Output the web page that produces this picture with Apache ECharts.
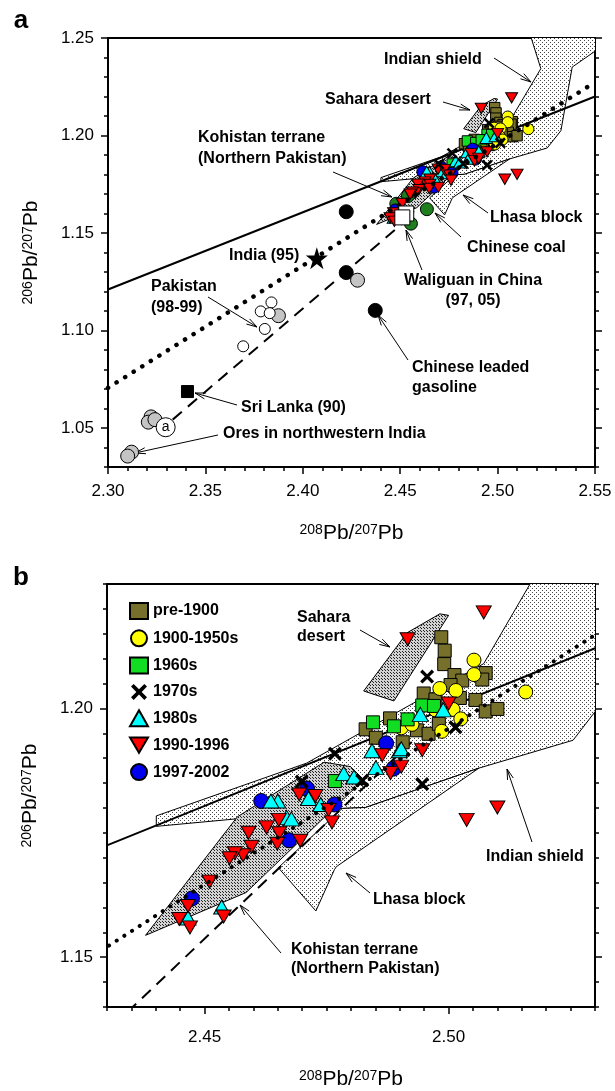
<!DOCTYPE html>
<html>
<head>
<meta charset="utf-8">
<script src="https://cdn.jsdelivr.net/npm/echarts@6/dist/echarts.min.js"></script>
<style>
  html, body { margin: 0; padding: 0; background: #fff; }
  #chart { width: 615px; height: 1091px; }
</style>
</head>
<body>
<div id="chart"></div>
<script>
// aerosol samples, [208Pb/207Pb, 206Pb/207Pb]
const pre1900 = [[2.4985, 1.2143], [2.4992, 1.2116], [2.4991, 1.2089], [2.5012, 1.2067], [2.5028, 1.2056], [2.5076, 1.2071], [2.5069, 1.2058], [2.5055, 1.2017], [2.5076, 1.1994], [2.5100, 1.1999], [2.4949, 1.2030], [2.5004, 1.2047], [2.5023, 1.2021], [2.4830, 1.1958], [2.4851, 1.1941], [2.4880, 1.1980], [2.4935, 1.1956], [2.4959, 1.1949], [2.4973, 1.2018], [2.4906, 1.1932], [2.4980, 1.1969]]
const y1900s = [[2.5052, 1.2097], [2.5052, 1.2068], [2.5158, 1.2033], [2.4982, 1.2040], [2.5015, 1.2036], [2.5009, 1.1998], [2.5025, 1.1979], [2.4973, 1.1997], [2.4903, 1.1961], [2.4925, 1.1968], [2.4986, 1.1954]]
const y1960s = [[2.4845, 1.1972], [2.4946, 1.2006], [2.4888, 1.1964], [2.4916, 1.1978], [2.4767, 1.1854], [2.4970, 1.2005]]
const y1970s = [[2.4956, 1.2064], [2.5014, 1.1962], [2.4946, 1.1848], [2.4767, 1.1909], [2.4699, 1.1853], [2.4823, 1.1855]]
const y1980s = [[2.4942, 1.1988], [2.4989, 1.1997], [2.4843, 1.1915], [2.4899, 1.1915], [2.4903, 1.1919], [2.4851, 1.1881], [2.4785, 1.1869], [2.4806, 1.1862], [2.4713, 1.1819], [2.4738, 1.1807], [2.4650, 1.1814], [2.4636, 1.1814], [2.4668, 1.1781], [2.4678, 1.1778], [2.4535, 1.1601], [2.4466, 1.1579]]
const y1990s = [[2.5072, 1.2193], [2.4916, 1.2139], [2.5000, 1.2010], [2.4946, 1.1916], [2.4864, 1.1906], [2.4881, 1.1870], [2.4903, 1.1883], [2.5100, 1.1801], [2.5037, 1.1776], [2.4694, 1.1827], [2.4727, 1.1824], [2.4754, 1.1796], [2.4761, 1.1771], [2.4652, 1.1776], [2.4627, 1.1761], [2.4653, 1.1749], [2.4590, 1.1750], [2.4649, 1.1728], [2.4696, 1.1734], [2.4596, 1.1722], [2.4579, 1.1705], [2.4562, 1.1709], [2.4551, 1.1699], [2.4510, 1.1652], [2.4466, 1.1603], [2.4448, 1.1577], [2.4470, 1.1560], [2.4539, 1.1582]]
const y1997 = [[2.4872, 1.1930], [2.4710, 1.1839], [2.4766, 1.1807], [2.4616, 1.1814], [2.4673, 1.1735], [2.4474, 1.1618], [2.4887, 1.1879]]

// other sources, panel a only
const leadedGasoline = [[2.4223, 1.1609], [2.4223, 1.1297], [2.4372, 1.1103]]
const grayCircles = [[2.3221, 1.0557], [2.3207, 1.0530], [2.3241, 1.0543], [2.3121, 1.0376], [2.3101, 1.0356], [2.3875, 1.1076], [2.4281, 1.1258]]
const pakistan = [[2.3839, 1.1144], [2.3784, 1.1098], [2.3830, 1.1089], [2.3805, 1.1008], [2.3694, 1.0919]]
const india95 = [[2.4072, 1.1371]]
const sriLanka = [[2.3408, 1.0687]]
const pointA = [[2.3296, 1.0504]]
const chineseCoal = [[2.4637, 1.1622], [2.4540, 1.1690], [2.4555, 1.1548], [2.4480, 1.1650]]
const waliguan = [[2.4531, 1.1600], [2.4511, 1.1580]]

// reference lines
const solidLine = [[2.30, 1.121], [2.55, 1.220]]
const dottedLine = [[2.30, 1.0706], [2.55, 1.2273]]
const dashedA = [[2.3332, 1.0543], [2.456, 1.159]]
const dashedB = [[2.4342, 1.139], [2.497, 1.1975]]

// source fields
const indianShield = [[2.5157, 1.255], [2.5222, 1.2343], [2.5072, 1.209], [2.4709, 1.1890], [2.4401, 1.1784], [2.4401, 1.1763], [2.4565, 1.1778], [2.4782, 1.1799], [2.4830, 1.1801], [2.5062, 1.1880], [2.5255, 1.1936], [2.5325, 1.2025], [2.5383, 1.2351], [2.5494, 1.2428], [2.56, 1.2501], [2.56, 1.255]]
const lhasaBlock = [[2.5062, 1.1880], [2.4770, 1.1682], [2.4766, 1.1676], [2.4728, 1.1593], [2.4651, 1.1680], [2.4782, 1.1799], [2.4830, 1.1801]]
const kohistan = [[2.4379, 1.1544], [2.4567, 1.1782], [2.4745, 1.1892], [2.4799, 1.1883], [2.4826, 1.1857], [2.4585, 1.1630]]
const sahara = [[2.4826, 1.2035], [2.4915, 1.2152], [2.4982, 1.2190], [2.5000, 1.2187], [2.4888, 1.2015]]

// axis ticks
const aXLabels = [2.30, 2.35, 2.40, 2.45, 2.50, 2.55]
const aYLabels = [1.05, 1.10, 1.15, 1.20, 1.25]
const bXLabels = [2.45, 2.50]
const bYLabels = [1.15, 1.20]

const FONT = '"Liberation Sans", Arial, sans-serif'
const chart = echarts.init(document.getElementById('chart'))

function steps (a, b, s) {
  const out = []
  for (let v = a; v <= b + s / 2; v += s) out.push(Math.round(v * 1e4) / 1e4)
  return out
}

function stipple (bg, dot, step) {
  const c = document.createElement('canvas')
  c.width = c.height = step
  const g = c.getContext('2d')
  g.fillStyle = bg
  g.fillRect(0, 0, step, step)
  g.fillStyle = dot
  g.fillRect(0, 0, 1, 1)
  g.fillRect(Math.floor(step / 2), Math.floor(step / 2), 1, 1)
  return { image: c, repeat: 'repeat' }
}
const lightFill = stipple('#ffffff', '#444', 4)
const darkFill = stipple('#d2d2d2', '#222', 3)

function axis (grid, pos, min, max, ticks, len, opts) {
  return Object.assign({
    type: 'value', gridIndex: grid, position: pos, min: min, max: max,
    axisLine: { show: true, onZero: false, lineStyle: { color: '#000', width: 2 } },
    axisTick: { show: true, customValues: ticks, length: len, lineStyle: { color: '#000', width: 1.5 } },
    axisLabel: { show: false },
    splitLine: { show: false }
  }, opts)
}
function labels (vals, margin) {
  return { show: true, customValues: vals, formatter: v => v.toFixed(2), color: '#000', fontSize: 17, fontFamily: FONT, margin: margin }
}
const titleRich = {
  m: { fontSize: 21, fontFamily: FONT, color: '#000', verticalAlign: 'bottom' },
  s: { fontSize: 14, fontFamily: FONT, color: '#000', verticalAlign: 'top' }
}
const titleText = '{s|208}{m|Pb/}{s|207}{m|Pb}'
const yTitleText = '{s|206}{m|Pb/}{s|207}{m|Pb}'
const noLine = { axisLine: { show: false } }

const xAxis = [
  axis(0, 'bottom', 2.30, 2.55, aXLabels, 7, { axisLabel: labels(aXLabels, 16), name: titleText, nameLocation: 'middle', nameGap: 56, nameTextStyle: { rich: titleRich } }),
  axis(0, 'bottom', 2.30, 2.55, steps(2.30, 2.55, 0.01), 4, noLine),
  axis(1, 'bottom', 2.43, 2.53, bXLabels, 7, { axisLabel: labels(bXLabels, 22), name: titleText, nameLocation: 'middle', nameGap: 62, nameTextStyle: { rich: titleRich } }),
  axis(1, 'bottom', 2.43, 2.53, steps(2.43, 2.53, 0.005), 4, noLine)
]
const yAxis = [
  axis(0, 'left', 1.03, 1.25, aYLabels, 7, { axisLabel: labels(aYLabels, 14), name: yTitleText, nameLocation: 'middle', nameGap: 66, nameRotate: 90, nameTextStyle: { rich: titleRich } }),
  axis(0, 'left', 1.03, 1.25, steps(1.03, 1.25, 0.01), 4, noLine),
  axis(0, 'right', 1.03, 1.25, aYLabels, 7, {}),
  axis(0, 'right', 1.03, 1.25, steps(1.03, 1.25, 0.01), 4, noLine),
  axis(1, 'left', 1.14, 1.225, bYLabels, 7, { axisLabel: labels(bYLabels, 14), name: yTitleText, nameLocation: 'middle', nameGap: 66, nameRotate: 90, nameTextStyle: { rich: titleRich } }),
  axis(1, 'left', 1.14, 1.225, steps(1.14, 1.225, 0.005), 4, noLine),
  axis(1, 'right', 1.14, 1.225, bYLabels, 7, {}),
  axis(1, 'right', 1.14, 1.225, steps(1.14, 1.225, 0.005), 4, noLine)
]

function polygon (name, verts, fill, xi, yi) {
  return {
    type: 'custom', name: name, xAxisIndex: xi, yAxisIndex: yi, clip: true, silent: true, z: 1,
    data: verts,
    renderItem (params, api) {
      if (params.dataIndex !== 0) return null
      return {
        type: 'polygon',
        shape: { points: verts.map(p => api.coord(p)) },
        style: { fill: fill, stroke: '#000', lineWidth: 1 }
      }
    }
  }
}
function line (data, xi, yi, style, z) {
  return {
    type: 'line', data: data, xAxisIndex: xi, yAxisIndex: yi, showSymbol: false, silent: true, z: z,
    lineStyle: Object.assign({ color: '#000' }, style)
  }
}
function scatter (name, data, xi, yi, symbol, size, color, z, extra) {
  return Object.assign({
    type: 'scatter', name: name, data: data, xAxisIndex: xi, yAxisIndex: yi, symbol: symbol, symbolSize: size, z: z || 3, silent: true,
    itemStyle: { color: color, borderColor: '#000', borderWidth: 1, opacity: 1 }
  }, extra)
}
const solidBlack = { itemStyle: { color: '#000', borderWidth: 0, opacity: 1 } }

const DOWN = 'path://M0,0L20,0L10,17Z'
const CROSS = 'path://M0,2L2,0L6,4L10,0L12,2L8,6L12,10L10,12L6,8L2,12L0,10L4,6Z'
const STAR = 'path://M50,0L61,35L98,35L68,57L79,91L50,70L21,91L32,57L2,35L39,35Z'
const OLIVE = '#77702a'

function modern (xi, yi, k) {
  return [
    scatter('pre-1900', pre1900, xi, yi, 'rect', 13 * k, OLIVE),
    scatter('1900-1950s', y1900s, xi, yi, 'circle', 14 * k, '#ffff00'),
    scatter('1960s', y1960s, xi, yi, 'rect', 13 * k, '#11dd22'),
    scatter('1997-2002', y1997, xi, yi, 'circle', 15 * k, '#0000ee'),
    scatter('1980s', y1980s, xi, yi, 'triangle', [16 * k, 14 * k], '#00ffff'),
    scatter('1990-1996', y1990s, xi, yi, DOWN, [15 * k, 13 * k], '#ff0000'),
    scatter('1970s', y1970s, xi, yi, CROSS, 14 * k, '#000', 3, solidBlack)
  ]
}

const series = [
  // panel a
  polygon('Indian shield', indianShield, lightFill, 0, 0),
  polygon('Lhasa block', lhasaBlock, lightFill, 0, 0),
  polygon('Kohistan', kohistan, darkFill, 0, 0),
  polygon('Sahara', sahara, darkFill, 0, 0),
  line(solidLine, 0, 0, { width: 2 }, 2),
  line(dashedA, 0, 0, { width: 2, type: [12, 8] }, 2),
  scatter('Chinese coal', chineseCoal, 0, 0, 'circle', 13, '#1f7f1f'),
  scatter('leaded', leadedGasoline, 0, 0, 'circle', 14, '#000'),
  scatter('gray', grayCircles, 0, 0, 'circle', 14, '#c4c4c4'),
  scatter('Pakistan', pakistan, 0, 0, 'circle', 11, '#fff'),
  scatter('India', india95, 0, 0, STAR, 22, '#000', 3, solidBlack),
  scatter('Sri Lanka', sriLanka, 0, 0, 'rect', 12, '#000'),
  scatter('a', pointA, 0, 0, 'circle', 19, '#fff', 3, { label: { show: true, position: 'inside', formatter: 'a', color: '#000', fontSize: 14, fontFamily: FONT } }),
  ...modern(0, 0, 0.8),
  line(dottedLine, 0, 0, { width: 4.5, type: [0.1, 10], cap: 'round' }, 4),
  scatter('Waliguan', waliguan, 0, 0, 'rect', 15, '#fff', 5),
  // panel b
  polygon('Indian shield', indianShield, lightFill, 2, 4),
  polygon('Lhasa block', lhasaBlock, lightFill, 2, 4),
  polygon('Kohistan', kohistan, darkFill, 2, 4),
  polygon('Sahara', sahara, darkFill, 2, 4),
  line(solidLine, 2, 4, { width: 2 }, 2),
  line(dashedB, 2, 4, { width: 2, type: [12, 8] }, 2),
  ...modern(2, 4, 1),
  line(dottedLine, 2, 4, { width: 4, type: [0.1, 9], cap: 'round' }, 4)
]

function arrow (x1, y1, x2, y2) {
  const a = Math.atan2(y2 - y1, x2 - x1)
  const h = 11
  const w = 0.28
  return {
    type: 'group', silent: true, z: 20,
    children: [
      { type: 'line', shape: { x1: x1, y1: y1, x2: x2, y2: y2 }, style: { stroke: '#000', lineWidth: 1 } },
      { type: 'polyline', shape: { points: [[x2 - h * Math.cos(a - w), y2 - h * Math.sin(a - w)], [x2, y2], [x2 - h * Math.cos(a + w), y2 - h * Math.sin(a + w)]] }, style: { stroke: '#000', lineWidth: 1, fill: null } }
    ]
  }
}
function txt (x, y, text, align, lh) {
  return {
    type: 'text', x: x, y: y, z: 20, silent: true,
    style: { text: text, fill: '#000', font: 'bold 16px ' + FONT, align: align || 'left', verticalAlign: 'middle', lineHeight: lh || 20 }
  }
}
function multi (x, y, text, align, lh) {
  const n = text.split('\n').length
  return txt(x, y + (n - 1) * (lh || 20) / 2, text, align, lh)
}

const graphic = [
  { type: 'text', x: 21, y: 21, z: 20, style: { text: 'a', font: 'bold 26px ' + FONT, fill: '#000', align: 'center', verticalAlign: 'middle' } },
  { type: 'text', x: 21, y: 578, z: 20, style: { text: 'b', font: 'bold 26px ' + FONT, fill: '#000', align: 'center', verticalAlign: 'middle' } },
  // panel a notes
  txt(384, 60, 'Indian shield'), arrow(494, 58, 531, 82),
  txt(325, 100, 'Sahara desert'), arrow(443, 102, 470, 110),
  multi(198, 138, 'Kohistan terrane\n(Northern Pakistan)', 'left', 21), arrow(333, 172, 392, 197),
  txt(490, 218, 'Lhasa block'), arrow(488, 213, 463, 195),
  txt(467, 248, 'Chinese coal'), arrow(461, 237, 435, 213),
  multi(473, 281, 'Waliguan in China\n(97, 05)', 'center', 20), arrow(422, 270, 406, 230),
  txt(229, 256, 'India (95)'),
  multi(151, 287, 'Pakistan\n(98-99)', 'left', 21), arrow(208, 297, 257, 327),
  multi(412, 368, 'Chinese leaded\ngasoline', 'left', 20), arrow(408, 360, 378, 315),
  txt(241, 408, 'Sri Lanka (90)'), arrow(237, 405, 195, 393),
  txt(223, 434, 'Ores in northwestern India'), arrow(218, 435, 135, 453),
  // panel b notes
  multi(297, 618, 'Sahara\ndesert', 'left', 18.5), arrow(360, 630, 390, 647),
  txt(486, 857, 'Indian shield'), arrow(532, 842, 507, 769),
  txt(373, 900, 'Lhasa block'), arrow(370, 893, 346, 873),
  multi(291, 950, 'Kohistan terrane\n(Northern Pakistan)', 'left', 19), arrow(281, 953, 240, 905)
]

chart.setOption({
  backgroundColor: '#fff',
  animation: false,
  grid: [
    { left: 108, top: 38, width: 487, height: 429, show: true, borderColor: '#000', borderWidth: 2, backgroundColor: 'transparent' },
    { left: 107, top: 584, width: 488, height: 431, show: true, borderColor: '#000', borderWidth: 2, backgroundColor: 'transparent' }
  ],
  legend: {
    data: ['pre-1900', '1900-1950s', '1960s', '1970s', '1980s', '1990-1996', '1997-2002'],
    orient: 'vertical', left: 124, top: 597, itemWidth: 18, itemHeight: 16, itemGap: 9.3,
    selectedMode: false,
    textStyle: { fontSize: 16, fontWeight: 'bold', fontFamily: FONT, color: '#000' }
  },
  xAxis: xAxis,
  yAxis: yAxis,
  series: series,
  graphic: graphic
})
</script>
</body>
</html>
